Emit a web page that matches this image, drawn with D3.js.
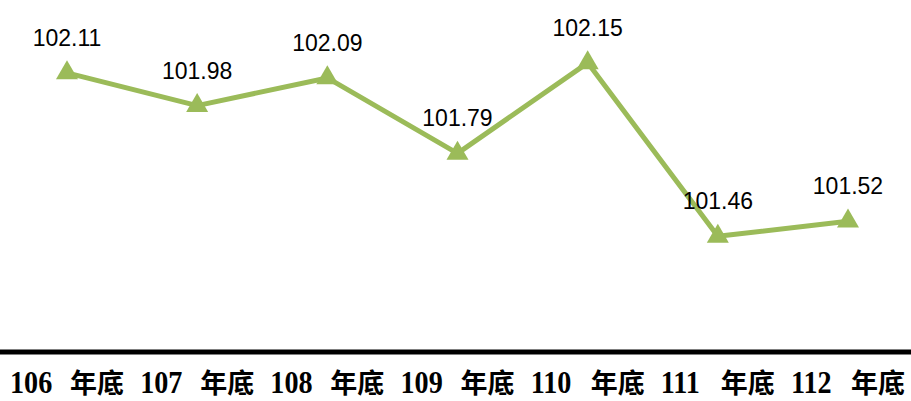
<!DOCTYPE html>
<html>
<head>
<meta charset="utf-8">
<script src="https://cdn.jsdelivr.net/npm/d3@7"></script>
<style>
  body { margin: 0; background: #fff; }
</style>
</head>
<body>
<div id="chart"></div>
<script>
const categories = ["106 年底", "107 年底", "108 年底", "109 年底", "110 年底", "111 年底", "112 年底"];
const values = [102.11, 101.98, 102.09, 101.79, 102.15, 101.46, 101.52];
const valueLabels = ["102.11", "101.98", "102.09", "101.79", "102.15", "101.46", "101.52"];

const width = 911, height = 401;

const svg = d3.select('#chart')
  .append('svg')
  .attr('width', width)
  .attr('height', height);

const x = d3.scalePoint()
  .domain(categories)
  .range([67, 848]);

const y = d3.scaleLinear()
  .domain([101, 102.4])
  .range([352, 0]);

// baseline axis
svg.append('line')
  .attr('x1', 0)
  .attr('x2', width)
  .attr('y1', y(101))
  .attr('y2', y(101))
  .attr('stroke', '#000')
  .attr('stroke-width', 5);

// category labels: year number (narrow serif) + 年底
const cat = svg.selectAll('g.cat')
  .data(categories)
  .enter()
  .append('g')
  .attr('class', 'cat')
  .attr('transform', d => `translate(${x(d)},393)`);

cat.append('text')
  .attr('transform', 'translate(-57,0) scale(0.88,1)')
  .attr('font-family', '"Liberation Serif", serif')
  .attr('font-weight', 'bold')
  .attr('font-size', 32)
  .text(d => d.split(' ')[0]);

cat.append('text')
  .attr('x', 3)
  .attr('y', 0)
  .attr('font-family', '"Noto Sans CJK TC", sans-serif')
  .attr('font-weight', 'bold')
  .attr('font-size', 27)
  .text(d => d.split(' ')[1]);

const line = d3.line()
  .x((d, i) => x(categories[i]))
  .y(d => y(d));

svg.append('path')
  .datum(values)
  .attr('d', line)
  .attr('fill', 'none')
  .attr('stroke', '#9BBB59')
  .attr('stroke-width', 5)
  .attr('stroke-linejoin', 'round');

svg.selectAll('path.marker')
  .data(values)
  .enter()
  .append('path')
  .attr('class', 'marker')
  .attr('d', d3.symbol().type(d3.symbolTriangle).size(210))
  .attr('transform', (d, i) => `translate(${x(categories[i])},${y(d)})`)
  .attr('fill', '#9BBB59');

svg.selectAll('text.val')
  .data(values)
  .enter()
  .append('text')
  .attr('class', 'val')
  .attr('x', (d, i) => x(categories[i]))
  .attr('y', d => y(d) - 27)
  .attr('text-anchor', 'middle')
  .attr('font-family', '"Liberation Sans", Arial, sans-serif')
  .attr('font-size', 23)
  .attr('fill', '#000')
  .text((d, i) => valueLabels[i]);
</script>
</body>
</html>
